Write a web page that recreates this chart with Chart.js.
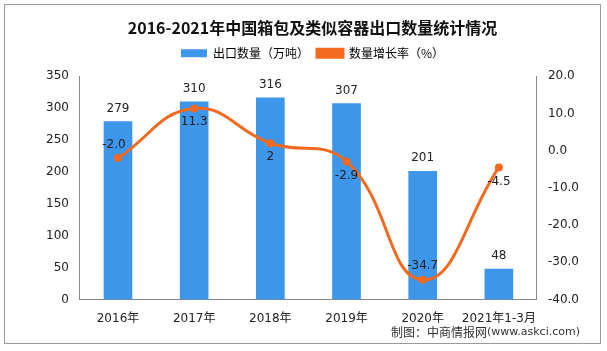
<!DOCTYPE html>
<html>
<head>
<meta charset="utf-8">
<script src="https://cdn.jsdelivr.net/npm/chart.js@4"></script>
<style>
  html, body { margin: 0; padding: 0; background: #fff; }
  #wrap { position: relative; width: 607px; height: 351px; }
  #frame { position: absolute; left: 4px; top: 4px; width: 597px; height: 340px; border: 1px solid #9a9a9a; box-sizing: border-box; pointer-events: none; }
  canvas { position: absolute; left: 0; top: 0; }
</style>
</head>
<body>
<div id="wrap">
  <canvas id="chart" width="607" height="351"></canvas>
  <div id="frame"></div>
</div>
<script>
// ─── Data ─────────────────────────────────────────────────────
const categories = ['2016年', '2017年', '2018年', '2019年', '2020年', '2021年1-3月'];
const exportVolume = [279, 310, 316, 307, 201, 48];           // 万吨
const growthRate = [-2.0, 11.3, 2, -2.9, -34.7, -4.5];         // %
const growthLabels = ['-2.0', '11.3', '2', '-2.9', '-34.7', '-4.5'];

const BAR_BLUE = '#3d96ea';
const LINE_ORANGE = '#f26a1f';
const FONT = '"DejaVu Sans", "Noto Sans CJK SC", sans-serif';

// ─── Value labels ─────────────────────────────────────────────
// offsets for the growth labels: [dx, dy] from the point
const growthOffsets = [[-4, -13], [0, 13], [0, 14], [0, 14], [0, -14], [0, 14]];

const valueLabels = {
  id: 'valueLabels',
  afterDatasetsDraw(chart) {
    const ctx = chart.ctx;
    ctx.save();
    ctx.font = '12px ' + FONT;
    ctx.fillStyle = '#222';
    ctx.textAlign = 'center';
    ctx.textBaseline = 'middle';
    chart.getDatasetMeta(0).data.forEach((bar, i) => {
      ctx.fillText(String(exportVolume[i]), bar.x, bar.y - 13);
    });
    chart.getDatasetMeta(1).data.forEach((pt, i) => {
      const [dx, dy] = growthOffsets[i];
      ctx.fillText(growthLabels[i], pt.x + dx, pt.y + dy);
    });
    ctx.restore();
  }
};

const sourceNote = {
  id: 'sourceNote',
  afterDraw(chart) {
    const ctx = chart.ctx;
    ctx.save();
    ctx.textBaseline = 'middle';
    ctx.textAlign = 'right';
    ctx.fillStyle = '#333';
    ctx.font = '11px ' + FONT;
    const url = '(www.askci.com)';
    const right = 580;
    ctx.fillText(url, right, 332);
    const w = ctx.measureText(url).width;
    ctx.font = '12px "Noto Sans CJK SC", sans-serif';
    ctx.fillText('制图：中商情报网', right - w, 332);
    ctx.restore();
  }
};

// extra gap below the legend
const legendGap = {
  id: 'legendGap',
  beforeInit(chart) {
    const fit = chart.legend.fit;
    chart.legend.fit = function() {
      fit.call(this);
      this.height += 7;
    };
  }
};

// ─── Chart ────────────────────────────────────────────────────
new Chart(document.getElementById('chart'), {
  data: {
    labels: categories,
    datasets: [
      {
        type: 'bar',
        label: '出口数量（万吨）',
        data: exportVolume,
        backgroundColor: BAR_BLUE,
        borderWidth: 0,
        barThickness: 28,
        yAxisID: 'y',
        order: 2
      },
      {
        type: 'line',
        label: '数量增长率（%）',
        data: growthRate,
        borderColor: LINE_ORANGE,
        backgroundColor: LINE_ORANGE,
        borderWidth: 3,
        pointRadius: 4,
        pointBorderWidth: 0,
        tension: 0.45,
        yAxisID: 'y1',
        order: 1
      }
    ]
  },
  options: {
    responsive: false,
    animation: false,
    layout: { padding: { left: 40, right: 22, top: 6, bottom: 21 } },
    plugins: {
      title: {
        display: true,
        text: '2016-2021年中国箱包及类似容器出口数量统计情况',
        color: '#111',
        font: { family: '"Noto Sans CJK SC", sans-serif', size: 16, weight: 'bold' },
        padding: { top: 12, bottom: 2 }
      },
      legend: {
        display: true,
        labels: {
          color: '#222',
          font: { family: '"Noto Sans CJK SC", sans-serif', size: 12 },
          boxWidth: 26,
          boxHeight: 8,
          padding: 8,
          generateLabels(chart) {
            return chart.data.datasets.map((ds, i) => ({
              text: ds.label,
              fillStyle: i === 0 ? BAR_BLUE : LINE_ORANGE,
              strokeStyle: i === 0 ? BAR_BLUE : LINE_ORANGE,
              lineWidth: i === 0 ? 0 : 3,
              pointStyle: i === 0 ? 'rect' : 'line',
              datasetIndex: i
            }));
          }
        }
      },
      tooltip: { enabled: false }
    },
    scales: {
      x: {
        grid: { display: false, drawTicks: true },
        border: { color: '#888' },
        ticks: {
          color: '#222', font: { family: FONT, size: 12 }, padding: 4,
          maxRotation: 0, minRotation: 0, autoSkip: false
        }
      },
      y: {
        position: 'left',
        min: 0, max: 350,
        ticks: { stepSize: 50, color: '#222', font: { family: FONT, size: 12 }, padding: 6 },
        grid: { display: false, drawTicks: true, tickLength: 5 },
        border: { color: '#888' }
      },
      y1: {
        position: 'right',
        min: -40, max: 20,
        ticks: {
          stepSize: 10,
          color: '#222',
          font: { family: FONT, size: 12 },
          padding: 6,
          callback: v => v.toFixed(1)
        },
        grid: { display: false, drawTicks: true, tickLength: 5 },
        border: { color: '#888' }
      }
    }
  },
  plugins: [valueLabels, sourceNote, legendGap]
});
</script>
</body>
</html>
